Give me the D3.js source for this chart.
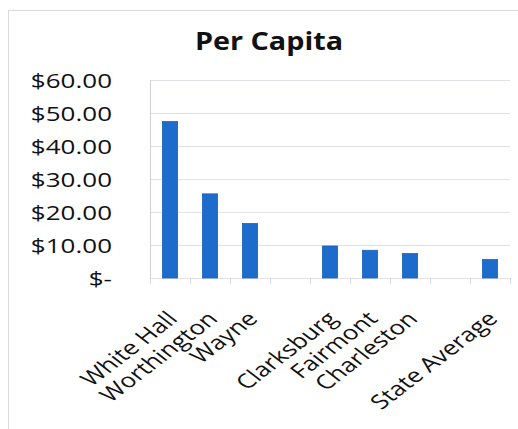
<!DOCTYPE html>
<html>
<head>
<meta charset="utf-8">
<script src="https://cdn.jsdelivr.net/npm/d3@7"></script>
<style>
  html, body { margin: 0; padding: 0; background: #fff; }
  svg { display: block; }
</style>
</head>
<body>
<svg id="chart" width="518" height="429"></svg>
<script>
// Per-capita spending by city; empty names are spacer slots in the axis.
const categories = ["White Hall", "Worthington", "Wayne", "", "Clarksburg", "Fairmont", "Charleston", "", "State Average"];
const perCapita = [47.4, 25.5, 16.5, null, 9.7, 8.4, 7.4, null, 5.6];
const yTicks = [0, 10, 20, 30, 40, 50, 60];
const yTickLabels = ["$-", "$10.00", "$20.00", "$30.00", "$40.00", "$50.00", "$60.00"];

const font = "'Open Sans', 'Noto Sans', sans-serif";
const stretch = 1.3; // the whole chart is drawn horizontally widened
const svg = d3.select("#chart");

// chart frame
svg.append("rect")
  .attr("x", 8.5).attr("y", 10.5)
  .attr("width", 530).attr("height", 430)
  .attr("fill", "#fff").attr("stroke", "#d9d9d9");

const margin = { left: 150, right: 8, top: 80, bottom: 151 };
const width = 518 - margin.left - margin.right;
const plotH = 429 - margin.top - margin.bottom;

const g = svg.append("g").attr("transform", `translate(${margin.left},${margin.top})`);

const x = d3.scaleBand()
  .domain(d3.range(categories.length))
  .range([0, width])
  .paddingInner(0.62).paddingOuter(0.31);

const y = d3.scaleLinear().domain([0, 60]).range([plotH, 0]);

// horizontal gridlines
g.append("g").selectAll("line").data(yTicks).join("line")
  .attr("x1", 0).attr("x2", width)
  .attr("y1", d => y(d) + 0.5).attr("y2", d => y(d) + 0.5)
  .attr("stroke", "#e2e2e6");

// value axis
const yAxis = d3.axisLeft(y).tickValues(yTicks)
  .tickFormat((d, i) => yTickLabels[i]).tickSize(0).tickPadding(0);
const ya = g.append("g").call(yAxis);
ya.select(".domain").attr("stroke", "#cfd0da");
ya.selectAll(".tick text")
  .attr("x", null).attr("dy", null)
  .attr("transform", `translate(-38,7.5) scale(${stretch},1)`)
  .attr("font-family", font).attr("font-size", 20).attr("fill", "#111");

// category axis
const step = x.step();
const bounds = d3.range(categories.length + 1).map(i => i * step);
g.append("g").selectAll("line").data(bounds).join("line")
  .attr("x1", d => d + 0.5).attr("x2", d => d + 0.5)
  .attr("y1", plotH).attr("y2", plotH + 6)
  .attr("stroke", "#d6d6dc");

g.append("g").selectAll("text").data(categories).join("text")
  .attr("transform", (d, i) =>
    `translate(${x(i) + x.bandwidth() / 2 + 9},${plotH + 42}) scale(${stretch},1) rotate(-45)`)
  .attr("text-anchor", "end")
  .attr("font-family", font).attr("font-size", 20).attr("fill", "#111")
  .text(d => d);

// bars
g.append("g").selectAll("rect")
  .data(perCapita.map((v, i) => ({ v, i })).filter(d => d.v != null))
  .join("rect")
  .attr("x", d => x(d.i)).attr("width", x.bandwidth())
  .attr("y", d => y(d.v)).attr("height", d => plotH - y(d.v))
  .attr("fill", "#1d6bcb").attr("stroke", "#1a62bb").attr("stroke-width", 0.8);

// title
svg.append("text")
  .attr("transform", `translate(269,50) scale(1.15,1)`)
  .attr("text-anchor", "middle")
  .attr("font-family", font).attr("font-weight", 700).attr("font-size", 25)
  .attr("fill", "#111")
  .text("Per Capita");
</script>
</body>
</html>
